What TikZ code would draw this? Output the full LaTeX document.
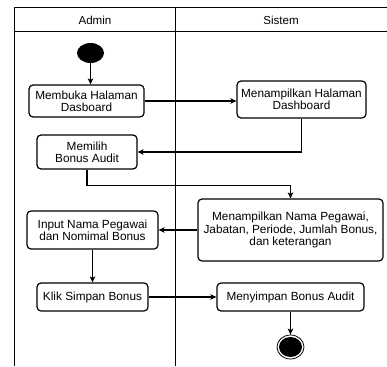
\documentclass[tikz,border=0pt]{standalone}
\usepackage{fontspec}
\setmainfont{Liberation Sans}
\usetikzlibrary{arrows.meta,shapes.geometric}
\begin{document}
\begin{tikzpicture}[x=1pt,y=-1pt,
  lane/.style={line width=1pt},
  act/.style={draw, rounded corners=4pt, line width=1.2pt, align=center,
    inner sep=0pt, font=\fontsize{11.8}{12.3}\selectfont},
  flow/.style={line width=1.1pt, -{Stealth[length=6pt,width=5.5pt,inset=1.5pt]}},
  lbl/.style={font=\fontsize{11.6}{13}\selectfont}]
\useasboundingbox (0,0) rectangle (387,366);

% swimlane frame
\draw[lane] (14,366) -- (14,8) -- (387,8);
\draw[lane] (14,32) -- (387,32);
\draw[lane] (175,8) -- (175,366);
\node[lbl] (hAdmin) at (95,20.5) {Admin};
\node[lbl] (hSistem) at (281,20.5) {Sistem};

% start / end
\node[ellipse, fill=black, minimum width=27pt, minimum height=20pt, inner sep=0pt] (start) at (90.5,53) {};
\node[ellipse, draw, line width=0.8pt, minimum width=27pt, minimum height=24pt, inner sep=0pt,
  path picture={\fill[black] (path picture bounding box.center) ellipse (11.5pt and 10pt);}] (finish) at (290.5,347) {};

% activities
\node[act, minimum width=115pt, minimum height=32pt] (b1) at (86.5,101) {Membuka Halaman\\Dasboard};
\node[act, minimum width=129pt, minimum height=37pt] (b2) at (301.5,99.5) {Menampilkan Halaman\\Dashboard};
\node[act, minimum width=100pt, minimum height=34pt] (b3) at (87,152) {Memilih\\Bonus Audit};
\node[act, minimum width=185pt, minimum height=62pt] (b4) at (290.5,230) {Menampilkan Nama Pegawai,\\Jabatan, Periode, Jumlah Bonus,\\dan keterangan};
\node[act, minimum width=131pt, minimum height=38pt] (b5) at (92.5,230) {Input Nama Pegawai\\dan Nomimal Bonus};
\node[act, minimum width=111pt, minimum height=28pt] (b6) at (92.5,297) {Klik Simpan Bonus};
\node[act, minimum width=147pt, minimum height=28pt] (b7) at (290.5,297) {Menyimpan Bonus Audit};

% control flow
\draw[flow] (start.south) -- (start.south |- b1.north);
\draw[flow] (b1.east) -- (b1.east -| b2.west);
\draw[flow] (b2.south) |- (b3.east);
\draw[flow] (b3.south) -- ++(0,16) -| (b4.north);
\draw[flow] (b4.west) -- (b5.east);
\draw[flow] (b5.south) -- (b6.north);
\draw[flow] (b6.east) -- (b7.west);
\draw[flow] (b7.south) -- (finish.north);
\end{tikzpicture}
\end{document}
